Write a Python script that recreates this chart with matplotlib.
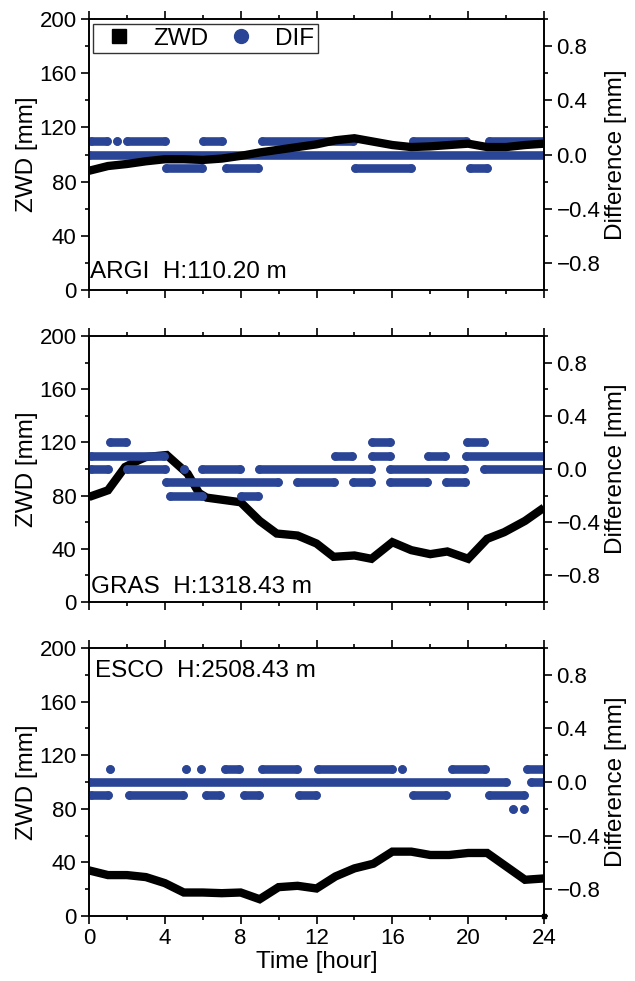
import matplotlib
matplotlib.use("Agg")
import matplotlib.pyplot as plt
from matplotlib.lines import Line2D
from matplotlib.ticker import MultipleLocator

plt.rcParams['font.family'] = ['Liberation Sans', 'DejaVu Sans']

BLUE = '#2b4596'

# station names / heights
stations = ['ARGI  H:110.20 m', 'GRAS  H:1318.43 m', 'ESCO  H:2508.43 m']

# ZWD series [mm] vs time [hour]
t_argi = [0, 1, 2, 3, 4, 5, 6, 7, 8, 9, 10, 11, 12, 13, 14, 15, 16, 17, 18,
          19, 20, 21, 22, 23, 24]
zwd_argi = [88, 91.5, 93, 95, 96.5, 96.5, 96, 97, 99, 101.5, 103.5, 105.5,
            107.5, 110.5, 112, 109.5, 107, 105.5, 106, 107, 108, 105.5,
            105.5, 107, 108]

t_gras = [0, 1.0, 1.9, 2.6, 3.0, 4.1, 5.2, 5.8, 6.2, 8.0, 9.0, 9.9, 11.0,
          12.0, 12.9, 14.0, 14.9, 16.0, 17.0, 18.0, 18.9, 20.0, 21.0, 21.9,
          23.0, 24.0]
zwd_gras = [79, 84, 101.5, 106.5, 109, 110.5, 96.5, 82, 78.5, 75, 61, 51.5,
            50, 44, 34, 35, 32.5, 45, 39, 36, 38, 32.5, 47.5, 52.5, 61, 71]

t_esco = [0, 1, 2, 3, 4, 5, 6, 7, 8, 9, 10, 11, 12, 13, 14, 15, 16, 17, 18,
          19, 20, 21, 22, 23, 24]
zwd_esco = [34, 30.5, 30.5, 29, 24.5, 17.5, 17.5, 17, 17.5, 12.5, 21.5, 22.5,
            20.5, 29.5, 35.5, 39, 48, 48, 45.5, 45.5, 47, 47, 37, 27, 28]

# DIF [mm]: time spans (start, end) in hours at each difference level
dif_argi = {
    0.1: [(0.1, 0.95), (1.5, 1.5), (2.0, 4.0), (6.0, 7.0), (9.1, 13.9),
          (17.1, 19.9), (21.1, 24.0)],
    0.0: [(0.0, 24.0)],
    -0.1: [(4.05, 5.95), (7.2, 8.9), (14.05, 17.0), (20.1, 21.0)],
}
dif_gras = {
    0.2: [(1.1, 1.95), (14.95, 15.85), (19.95, 20.85)],
    0.1: [(0.1, 3.95), (12.95, 13.85), (14.95, 15.85), (17.9, 18.8),
          (19.9, 24.0)],
    0.0: [(0.1, 1.0), (2.0, 4.0), (5.0, 5.0), (5.95, 7.95), (8.95, 14.9),
          (15.9, 19.8), (20.85, 24.0)],
    -0.1: [(4.05, 9.95), (10.95, 12.9), (13.95, 14.9), (15.9, 17.85),
           (18.85, 19.85)],
    -0.2: [(4.25, 5.95), (8.0, 8.9)],
}
dif_esco = {
    0.1: [(1.1, 1.1), (5.1, 5.1), (5.9, 5.9), (7.15, 7.9), (9.1, 10.95),
          (12.1, 16.0), (16.5, 16.5), (19.15, 20.9), (23.1, 24.0)],
    0.0: [(0.0, 22.0), (23.3, 24.0)],
    -0.1: [(0.1, 0.98), (2.1, 4.95), (6.15, 6.9), (8.15, 8.97), (11.1, 11.95),
           (17.1, 18.85), (21.1, 22.95)],
    -0.2: [(22.35, 22.35), (22.97, 22.97)],
}

panels = [
    (t_argi, zwd_argi, dif_argi),
    (t_gras, zwd_gras, dif_gras),
    (t_esco, zwd_esco, dif_esco),
]

# axes rectangles [left, bottom, width, height]
rects = [
    [0.1402, 0.7044, 0.7165, 0.2762],
    [0.1402, 0.3863, 0.7165, 0.2712],
    [0.1402, 0.0663, 0.7165, 0.2732],
]
label_pos = [(0.003, 0.065), (0.004, 0.055), (0.013, 0.914)]

fig = plt.figure(figsize=(6.35, 9.81), dpi=100)

for i, (t, zwd, dif) in enumerate(panels):
    ax = fig.add_axes(rects[i])
    ax2 = ax.twinx()

    ax.plot(t, zwd, color='black', lw=6, solid_capstyle='butt',
            solid_joinstyle='miter')
    if i == 2:
        # last sample at midnight has zero ZWD
        ax.plot([24], [0], 's', color='black', ms=3, clip_on=False, zorder=5)

    for lvl, spans in dif.items():
        for a, b in spans:
            ax2.plot([a, b], [lvl, lvl], '-o', color=BLUE, lw=6.2, ms=6.2,
                     mew=0, solid_capstyle='round')

    ax.set_xlim(0, 24)
    ax.set_ylim(0, 200)
    ax2.set_ylim(-1.0, 1.0)

    ax.xaxis.set_major_locator(MultipleLocator(4))
    ax.xaxis.set_minor_locator(MultipleLocator(2))
    ax.yaxis.set_major_locator(MultipleLocator(40))
    ax.yaxis.set_minor_locator(MultipleLocator(20))
    ax2.set_yticks([-0.8, -0.4, 0.0, 0.4, 0.8])
    ax2.yaxis.set_minor_locator(MultipleLocator(0.2))

    ax.tick_params(axis='both', which='major', direction='out', length=6,
                   width=1.2, labelsize=16, pad=3, top=True)
    ax.tick_params(axis='both', which='minor', direction='out', length=3,
                   width=1.2, top=True)
    ax2.tick_params(axis='y', which='major', direction='out', length=6,
                    width=1.2, labelsize=16, pad=3)
    ax2.tick_params(axis='y', which='minor', direction='out', length=3,
                    width=1.2)
    for a in (ax, ax2):
        for s in a.spines.values():
            s.set_linewidth(1.2)

    if i < 2:
        ax.tick_params(axis='x', labelbottom=False)
    else:
        ax.set_xlabel('Time [hour]', fontsize=17.5, labelpad=1)

    ax.set_ylabel('ZWD [mm]', fontsize=17.5, labelpad=1)
    ax2.set_ylabel('Difference [mm]', fontsize=17.5, labelpad=3)

    ax.text(label_pos[i][0], label_pos[i][1], stations[i], fontsize=17.5,
            transform=ax.transAxes, ha='left', va='center')

    if i == 0:
        handles = [
            Line2D([], [], marker='s', ls='none', color='black', ms=10),
            Line2D([], [], marker='o', ls='none', color=BLUE, ms=10),
        ]
        leg = ax.legend(handles, ['ZWD', 'DIF'], loc='upper left',
                        bbox_to_anchor=(0.008, 0.982), ncol=2, fontsize=17.5,
                        frameon=True, fancybox=False, edgecolor='black',
                        handlelength=1.9, handletextpad=0.45,
                        columnspacing=0.4, borderpad=0.15, borderaxespad=0)
        leg.get_frame().set_linewidth(1.0)
        leg.set_zorder(10)
        ax.set_zorder(ax2.get_zorder() + 1)
        ax.patch.set_visible(False)

fig.savefig('out.png', dpi=100)
